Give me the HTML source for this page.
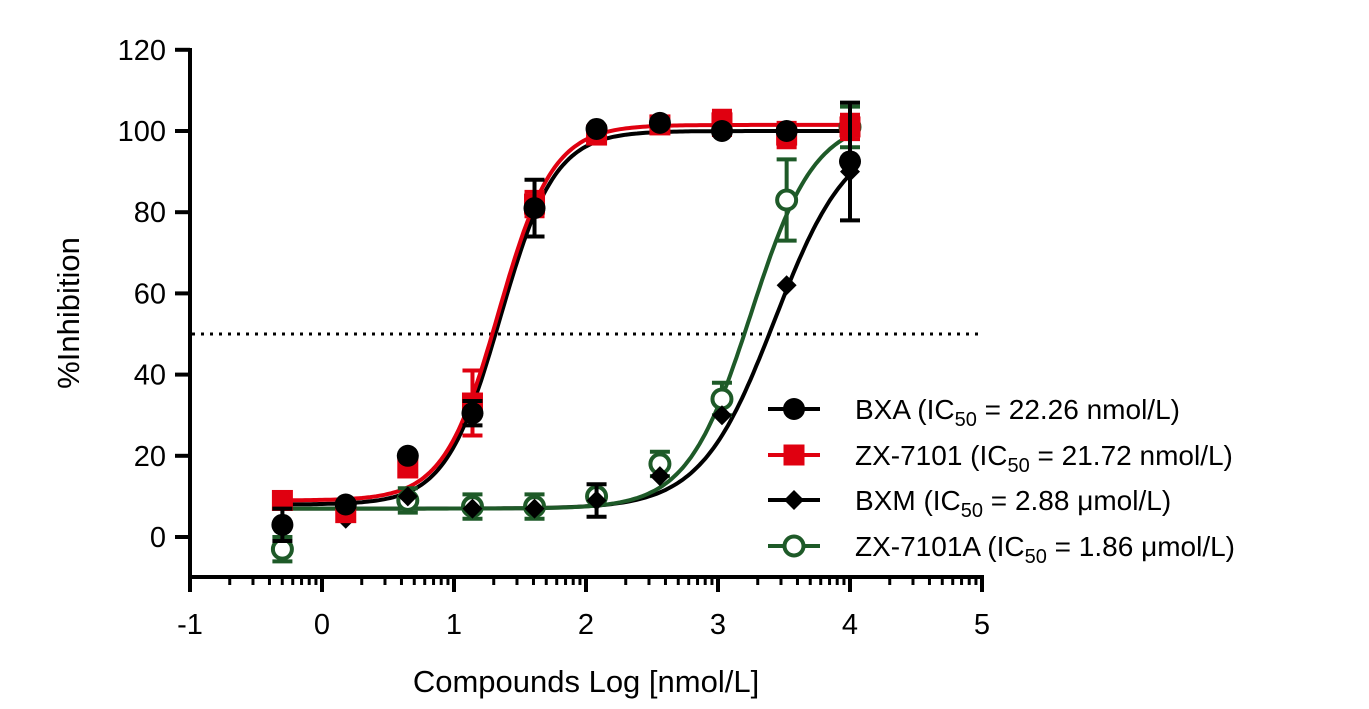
<!DOCTYPE html>
<html><head><meta charset="utf-8"><style>
body{margin:0;background:#fff}
svg{display:block;font-family:"Liberation Sans",sans-serif}
</style></head><body>
<svg id="c" width="1369" height="709"></svg>
<script>
const xs=[-0.3,0.18,0.65,1.14,1.61,2.08,2.56,3.03,3.52,4.0];
const bxa=[3,8,20,30.5,81,100.5,102,100,100,92.5];
const bxaErr=[4,2,1.5,3,7,1,1.5,1,1,14.5];
const zx=[9,6,17,33,82,99,101.5,102,99,101];
const zxErr=[2,1,2,8,3,1.5,2,3,3,3];
const bxm=[null,4.5,10,7,7,9,15,30,62,90];
const bxmErr=[0,1,1,1,1,4,1,1,1,1];
const zxa=[-3,null,9,7.5,7.5,10,18,34,83,101];
const zxaErr=[3,0,3,3,3,2,3,4,10,5];
const fits={bxa:[8,100,1.35,2.1],zx:[9,101.5,1.337,2.1],bxm:[7,100,3.43,1.55],zxa:[7,103,3.25,1.8]};
const yTicks=[0,20,40,60,80,100,120];
const xTicks=[-1,0,1,2,3,4,5];
const NS="http://www.w3.org/2000/svg";
const svg=document.getElementById('c');
const X=v=>322+v*132, Y=v=>537-v*4.06;
function el(t,a,p){const e=document.createElementNS(NS,t);for(const k in a)e.setAttribute(k,a[k]);(p||svg).appendChild(e);return e;}
let g=el('g',{});


el('line',{x1:190,y1:48,x2:190,y2:579,stroke:'#000','stroke-width':4},g);
yTicks.forEach(v=>{el('line',{x1:175,y1:Y(v),x2:190,y2:Y(v),stroke:'#000','stroke-width':4},g);
const t=el('text',{x:166,y:Y(v)+10,'text-anchor':'end','font-size':29},g);t.textContent=v;
});
let gx=el('g',{});


el('line',{x1:188,y1:577,x2:984,y2:577,stroke:'#000','stroke-width':4},gx);
xTicks.forEach(v=>{el('line',{x1:X(v),y1:577,x2:X(v),y2:592,stroke:'#000','stroke-width':4},gx);
const t=el('text',{x:X(v),y:634,'text-anchor':'middle','font-size':29},gx);t.textContent=v;

if(v<5)for(let m=2;m<10;m++){const px=X(v+Math.log10(m));el('line',{x1:px,y1:577,x2:px,y2:585,stroke:'#000','stroke-width':3},gx);}});
let t=el('text',{x:586,y:692,'text-anchor':'middle','font-size':31});t.textContent='Compounds Log [nmol/L]';

t=el('text',{x:0,y:0,'text-anchor':'middle','font-size':31,transform:'translate(79,313) rotate(-90)'});t.textContent='%Inhibition';

const d=el('line',{x1:192,y1:Y(50),x2:982,y2:Y(50),stroke:'#000','stroke-width':3,'stroke-dasharray':'3 6'});

function curve(f,col,name){const [b,tp,c,h]=f;let p='';for(let i=0;i<=200;i++){const x=-0.3+i*4.3/200;const y=b+(tp-b)/(1+Math.pow(10,(c-x)*h));p+=(i?'L':'M')+X(x).toFixed(1)+','+Y(y).toFixed(1);}
const e=el('path',{d:p,fill:'none',stroke:col,'stroke-width':4});}
function marker(type,cx,cy,col,parent){
if(type==='circle')return el('circle',{cx,cy,r:11,fill:col},parent);
if(type==='square')return el('rect',{x:cx-10.5,y:cy-10.5,width:21,height:21,fill:col},parent);
if(type==='diamond')return el('path',{d:`M${cx},${cy-10}L${cx+10},${cy}L${cx},${cy+10}L${cx-10},${cy}Z`,fill:col},parent);
return el('circle',{cx,cy,r:9.5,fill:'#fff',stroke:col,'stroke-width':4},parent);}
function series(vals,errs,col,type,name){const gg=el('g',{});
vals.forEach((v,i)=>{if(v==null)return;const cx=X(xs[i]),cy=Y(v),e=errs[i];
if(e>2){el('line',{x1:cx,y1:Y(v-e),x2:cx,y2:Y(v+e),stroke:col,'stroke-width':4},gg);
[v-e,v+e].forEach(q=>el('line',{x1:cx-10,y1:Y(q),x2:cx+10,y2:Y(q),stroke:col,'stroke-width':4},gg));}
const m=marker(type,cx,cy,col,gg);});}
curve(fits.bxm,'#000','bxm');curve(fits.zxa,'#1e5a28','zx-7101a');curve(fits.bxa,'#000','bxa');curve(fits.zx,'#e00010','zx-7101');
series(zxa,zxaErr,'#1e5a28','open','zx-7101a');
series(bxm,bxmErr,'#000','diamond','bxm');
series(zx,zxErr,'#e00010','square','zx-7101');
series(bxa,bxaErr,'#000','circle','bxa');
const leg=[['BXA (IC','50',' = 22.26 nmol/L)','#000','circle',409],['ZX-7101 (IC','50',' = 21.72 nmol/L)','#e00010','square',455],['BXM (IC','50',' = 2.88 μmol/L)','#000','diamond',500],['ZX-7101A (IC','50',' = 1.86 μmol/L)','#1e5a28','open',546]];
leg.forEach(l=>{const gg=el('g',{});
el('line',{x1:768,y1:l[5],x2:820,y2:l[5],stroke:l[3],'stroke-width':4},gg);marker(l[4],794,l[5],l[3],gg);
const tt=el('text',{x:855,y:l[5]+10,'font-size':28},gg);
const a=el('tspan',{},tt);a.textContent=l[0];const s=el('tspan',{dy:7,'font-size':20},tt);s.textContent=l[1];const c=el('tspan',{dy:-7},tt);c.textContent=l[2];});
</script>
</body></html>
